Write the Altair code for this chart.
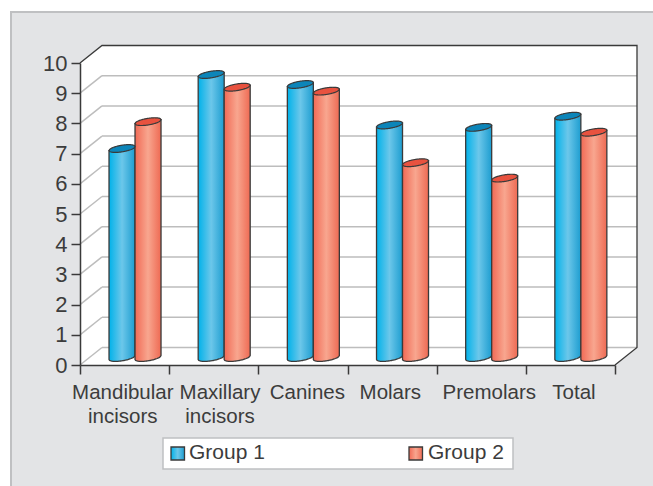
import altair as alt
import numpy as np
import pandas as pd

# Chart values
categories = ["Mandibular\nincisors", "Maxillary\nincisors", "Canines", "Molars", "Premolars", "Total"]
group_1 = [6.92, 9.37, 9.04, 7.70, 7.62, 7.99]
group_2 = [7.81, 8.95, 8.82, 6.45, 5.94, 7.46]
y_ticks = list(range(11))
legend_names = ["Group 1", "Group 2"]

# Centres of the category captions, in category units
label_centres = [0.48, 1.57, 2.55, 3.48, 4.59, 5.54]

# Pseudo-3D geometry, in axis units
DEPTH_X = 0.2467
DEPTH_Y = 0.58
BAR_W = 0.2916
BAR_START = 0.617
BASE = 0.248
TILT = 0.066
MINOR = 0.11

INK = "#3a3a3a"
TEXT = "#3c3c3c"
GRID = "#bdbdbd"
FONT = "Liberation Sans"


def cyl_gradient(a, b, c):
    return alt.LinearGradient(
        gradient="linear", x1=0, x2=1, y1=0, y2=0,
        stops=[alt.GradientStop(offset=0, color=a),
               alt.GradientStop(offset=0.5, color=b),
               alt.GradientStop(offset=1, color=c)],
    )


BLUE = cyl_gradient("#00b2ea", "#6cc7ea", "#1d9dd0")
RED = cyl_gradient("#f16a55", "#f8a68f", "#ee6a53")

x_scale = alt.Scale(domain=[0, 6], nice=False, zero=False)
y_scale = alt.Scale(domain=[0, 10], nice=False, zero=False)

x_axis = alt.Axis(values=list(range(7)), labels=False, grid=False, tickSize=9,
                  tickColor=INK, domainColor=INK, tickWidth=1.5, domainWidth=1.5,
                  zindex=1, title=None)
y_axis = alt.Axis(values=y_ticks, grid=False, tickSize=9, tickColor=INK,
                  domainColor=INK, tickWidth=1.5, domainWidth=1.5, labelPadding=4,
                  labelFont=FONT, labelFontSize=22, labelColor=TEXT, zindex=1, title=None)


def X(field="x"):
    return alt.X(f"{field}:Q", scale=x_scale, axis=x_axis)


def Y(field="y"):
    return alt.Y(f"{field}:Q", scale=y_scale, axis=y_axis)


# Bodies and lids of the cylinders, as sheared half-ellipses sampled across each bar
t = np.linspace(-1, 1, 41)
arc = np.sqrt(1 - t ** 2)
bodies, lids = [], []
for i in range(len(categories)):
    for g, series in enumerate((group_1, group_2)):
        cx = i + BAR_START + (g - 0.5) * BAR_W
        top = BASE + series[i]
        for tt, a in zip(t, arc):
            px = cx + tt * BAR_W / 2
            tilt = tt * TILT
            bodies.append({"id": f"{i}-{g}", "g": g, "x": px,
                           "y": top + tilt, "y2": BASE + tilt - MINOR * a})
            lids.append({"id": f"{i}-{g}", "g": g, "x": px,
                         "y": top + tilt + MINOR * a, "y2": top + tilt - MINOR * a})
bodies = pd.DataFrame(bodies)
lids = pd.DataFrame(lids)


def cylinders(g, gradient, lid_colour):
    body = alt.Chart(bodies[bodies.g == g]).mark_area(
        fill=gradient, stroke=INK, strokeWidth=1.3
    ).encode(x=X(), y=Y(), y2="y2:Q", detail="id:N")
    lid = alt.Chart(lids[lids.g == g]).mark_area(
        fill=lid_colour, stroke=INK, strokeWidth=1.2
    ).encode(x=X(), y=Y(), y2="y2:Q", detail="id:N")
    return body, lid


# Page panel
panel = alt.Chart(pd.DataFrame({"a": [0]})).mark_rect(
    fill="#e3e4e6", stroke="#bfc0c2", strokeWidth=2
).encode(x=alt.value(-69), x2=alt.value(620), y=alt.value(-51), y2=alt.value(460))

# White walls and floor
walls = alt.Chart(pd.DataFrame({
    "x": [0, DEPTH_X, 6, 6 + DEPTH_X],
    "y": [10, 10 + DEPTH_Y, 10 + DEPTH_Y, 10 + DEPTH_Y],
    "y2": [0, 0, 0, DEPTH_Y],
})).mark_area(fill="white", opacity=1).encode(x=X(), y=Y(), y2="y2:Q")

# Grid running along the back wall and up the side wall
grid_rows = [{"x": 0, "x2": DEPTH_X, "y": v, "y2": v + DEPTH_Y} for v in y_ticks[:-1]]
grid_rows += [{"x": DEPTH_X, "x2": 6 + DEPTH_X, "y": v + DEPTH_Y, "y2": v + DEPTH_Y} for v in y_ticks[:-1]]
grid = alt.Chart(pd.DataFrame(grid_rows)).mark_rule(color=GRID, strokeWidth=1.5).encode(
    x=X(), x2="x2:Q", y=Y(), y2="y2:Q"
)

# Dark outline of the box
outline = alt.Chart(pd.DataFrame({
    "k": range(5),
    "x": [0, DEPTH_X, 6 + DEPTH_X, 6 + DEPTH_X, 6],
    "y": [10, 10 + DEPTH_Y, 10 + DEPTH_Y, DEPTH_Y, 0],
})).mark_line(color=INK, strokeWidth=1.3).encode(x=X(), y=Y(), order="k:Q")

captions = alt.Chart(pd.DataFrame({"x": label_centres, "label": categories})).mark_text(
    font=FONT, fontSize=20.5, color=TEXT, baseline="alphabetic", align="center",
    lineBreak="\n", lineHeight=23.5
).encode(x=X(), y=alt.value(336), text="label:N")

# Legend box
legend_box = alt.Chart(pd.DataFrame({"a": [0]})).mark_rect(
    fill="white", stroke="#bfc0c2", strokeWidth=1.5
).encode(x=alt.value(83), x2=alt.value(433), y=alt.value(375), y2=alt.value(406))


def swatch(px, gradient):
    return alt.Chart(pd.DataFrame({"a": [0]})).mark_rect(
        fill=gradient, stroke=INK, strokeWidth=1.3
    ).encode(x=alt.value(px), x2=alt.value(px + 13.5), y=alt.value(384), y2=alt.value(397))


legend_text = alt.Chart(pd.DataFrame({"name": legend_names, "px": [109, 348]})).mark_text(
    font=FONT, fontSize=21, color=TEXT, align="left", baseline="alphabetic"
).encode(x=alt.X("px:Q", scale=None, axis=None), y=alt.value(396), text="name:N")

b1, l1 = cylinders(0, BLUE, "#0c85b9")
b2, l2 = cylinders(1, RED, "#e8523f")

chart = alt.layer(
    panel, walls, grid, outline, b1, b2, l1, l2, captions,
    legend_box, swatch(91, BLUE), swatch(329, RED), legend_text,
).resolve_scale(x="shared", y="shared").properties(
    width=535,
    height=302,
    background="white",
    autosize="none",
    padding={"left": 80, "top": 63, "right": 38, "bottom": 121},
).configure_view(stroke=None)

chart.save("out.html", embed_options={"renderer": "svg", "actions": False})
